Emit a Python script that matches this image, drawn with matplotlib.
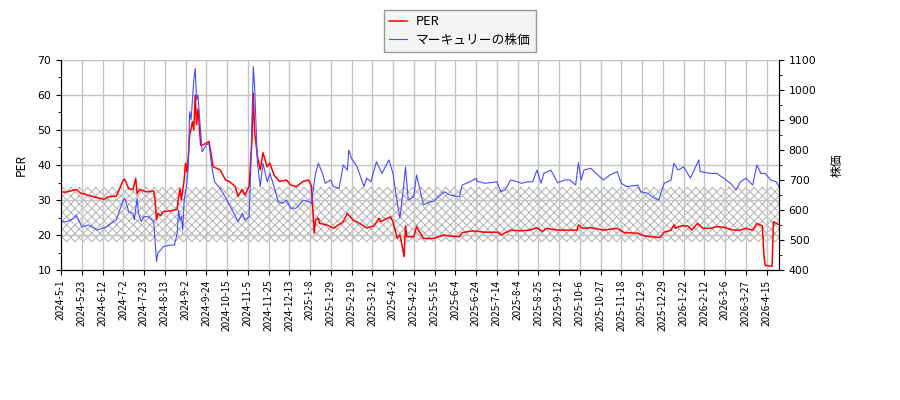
import matplotlib
matplotlib.use("Agg")
import matplotlib.pyplot as plt
from matplotlib.ticker import MultipleLocator

# trading-day index -> value
PER_IDX = [0, 3, 11, 14, 23, 31, 35, 40, 45, 46, 49, 52, 54, 55, 57, 62, 67, 68, 69, 70,
           72, 74, 81, 84, 85, 86, 87, 89, 90, 91, 92, 93, 95, 96, 97, 98, 99, 101, 103, 107,
           109, 110, 115, 119, 122, 126, 128, 131, 133, 136, 137, 138, 139, 140, 142, 144, 146, 149, 151, 154,
           158, 163, 166, 170, 175, 179, 181, 183, 184, 186, 187, 192, 197, 204, 207, 211, 216, 221, 226, 230,
           231, 238, 240, 243, 245, 246, 248, 249, 250, 255, 257, 259, 262, 269, 277, 281, 288, 290, 298, 306,
           316, 318, 325, 332, 339, 344, 348, 351, 359, 368, 373, 374, 377, 383, 392, 402, 407, 417, 421, 426,
           433, 436, 441, 443, 444, 448, 453, 456, 460, 464, 470, 474, 479, 486, 491, 495, 500, 503, 507, 508,
           509, 514, 515, 519]
PER_VALUES = [32.4, 32.2, 33.0, 32.0, 31.0, 30.2, 31.0, 31.1, 35.7, 36.0, 33.2, 33.0, 36.2, 31.8, 33.0, 32.3, 32.6, 30.0, 24.3, 26.2,
              25.5, 26.7, 27.0, 27.4, 31.0, 33.2, 30.0, 35.7, 40.5, 38.0, 42.4, 48.5, 52.4, 50.0, 60.0, 51.5, 56.0, 45.6, 45.8, 46.7,
              41.9, 39.5, 38.6, 35.7, 35.2, 33.8, 31.1, 33.0, 31.4, 34.0, 40.7, 46.3, 60.5, 49.3, 42.4, 38.6, 43.5, 39.5, 40.5, 37.1,
              35.3, 35.7, 34.3, 33.8, 35.3, 35.7, 34.0, 20.5, 24.3, 24.8, 23.3, 22.9, 21.9, 23.8, 26.2, 24.3, 23.3, 22.0, 22.6, 24.8,
              23.8, 25.2, 23.8, 19.1, 20.0, 18.1, 13.8, 22.6, 19.5, 19.5, 22.4, 21.0, 19.0, 19.0, 20.0, 19.7, 19.5, 20.7, 21.2, 20.8,
              20.8, 20.0, 21.4, 21.2, 21.4, 22.1, 21.0, 21.9, 21.4, 21.4, 21.4, 22.9, 21.9, 22.1, 21.4, 21.9, 20.7, 20.5, 19.8, 19.5,
              19.3, 20.8, 21.4, 22.9, 21.9, 22.6, 22.6, 21.4, 23.3, 21.9, 21.9, 22.4, 22.2, 21.4, 21.4, 21.9, 21.4, 23.3, 22.6, 14.6,
              11.3, 11.1, 23.8, 22.9]

PRICE_IDX = [0, 4, 9, 11, 15, 20, 26, 33, 38, 40, 45, 46, 49, 52, 53, 55, 56, 58, 60, 63,
             67, 68, 69, 70, 72, 74, 79, 82, 84, 85, 86, 87, 88, 89, 91, 92, 93, 94, 96, 97,
             98, 99, 101, 102, 105, 107, 109, 111, 115, 120, 125, 128, 131, 133, 136, 137, 138, 139, 140, 142,
             144, 146, 149, 151, 154, 157, 160, 163, 166, 170, 175, 179, 181, 184, 186, 189, 191, 195, 197, 201,
             204, 207, 208, 210, 214, 219, 221, 224, 228, 232, 237, 240, 242, 244, 245, 248, 249, 251, 255, 257,
             259, 262, 267, 269, 277, 281, 288, 290, 294, 298, 300, 301, 303, 306, 310, 315, 318, 321, 325, 330,
             333, 337, 341, 344, 347, 349, 354, 359, 364, 368, 372, 374, 376, 378, 383, 388, 392, 397, 402, 405,
             409, 417, 419, 424, 429, 432, 436, 441, 443, 446, 450, 455, 461, 462, 470, 474, 479, 484, 488, 491,
             495, 500, 503, 506, 509, 513, 517, 519]
PRICE_VALUES = [561, 561, 572, 583, 544, 550, 533, 544, 561, 567, 633, 639, 594, 589, 567, 639, 589, 561, 578, 578,
                561, 500, 428, 456, 467, 478, 483, 483, 522, 600, 567, 578, 533, 633, 689, 744, 928, 900, 1033, 1072,
                967, 983, 856, 794, 817, 822, 744, 694, 672, 633, 589, 561, 589, 567, 578, 711, 889, 1078, 1006, 756,
                678, 756, 694, 722, 678, 628, 622, 633, 606, 606, 633, 628, 622, 722, 756, 722, 689, 700, 678, 672,
                750, 733, 800, 772, 744, 678, 706, 694, 761, 722, 767, 722, 656, 600, 572, 694, 744, 633, 644, 717,
                678, 617, 628, 628, 661, 650, 644, 683, 691, 700, 706, 694, 694, 689, 691, 694, 661, 667, 700, 694,
                689, 694, 694, 733, 689, 722, 733, 691, 700, 700, 683, 758, 700, 733, 739, 717, 700, 717, 728, 689,
                678, 683, 661, 656, 639, 633, 689, 700, 756, 733, 744, 706, 767, 728, 722, 722, 706, 689, 667, 694,
                706, 683, 750, 722, 722, 700, 694, 678]

TICK_LABELS = ["2024-5-1", "2024-5-23", "2024-6-12", "2024-7-2", "2024-7-23", "2024-8-13", "2024-9-2",
               "2024-9-24", "2024-10-15", "2024-11-5", "2024-11-25", "2024-12-13", "2025-1-8", "2025-1-29",
               "2025-2-19", "2025-3-12", "2025-4-2", "2025-4-22", "2025-5-15", "2025-6-4", "2025-6-24",
               "2025-7-14", "2025-8-4", "2025-8-25", "2025-9-12", "2025-10-6", "2025-10-27", "2025-11-18",
               "2025-12-9", "2025-12-29", "2026-1-22", "2026-2-12", "2026-3-6", "2026-3-27", "2026-4-15"]
TICK_STEP = 15
N_DAYS = 520

PER_BAND = (18.1, 33.8)

JP = ["Noto Sans CJK JP", "DejaVu Sans"]


def main():
    plt.rcParams["font.family"] = ["DejaVu Sans", "Noto Sans CJK JP"]
    plt.rcParams["hatch.linewidth"] = 0.7

    fig = plt.figure(figsize=(9, 4), dpi=100)
    ax = fig.add_axes([61 / 900, 1 - 270 / 400, 718 / 900, 210 / 400])
    ax2 = ax.twinx()

    # hatched PER band behind the lines
    ax.axhspan(PER_BAND[0], PER_BAND[1], facecolor="none", edgecolor="#b2b2b2",
               hatch="xxxx", linewidth=0, zorder=0)

    l1, = ax.plot(PER_IDX, PER_VALUES, color="#ff0000", lw=1.1, label="PER")
    l2, = ax2.plot(PRICE_IDX, PRICE_VALUES, color="#4a4aff", lw=0.8, label="マーキュリーの株価")

    ax.set_xlim(0, N_DAYS - 1)
    ax.set_ylim(10, 70)
    ax2.set_ylim(400, 1100)

    ticks = [i * TICK_STEP for i in range(len(TICK_LABELS))]
    ax.set_xticks(ticks)
    ax.set_xticklabels(TICK_LABELS, rotation=90, fontsize=7.2, family=JP)

    ax.yaxis.set_major_locator(MultipleLocator(10))
    ax.yaxis.set_minor_locator(MultipleLocator(5))
    ax2.yaxis.set_major_locator(MultipleLocator(100))
    ax2.yaxis.set_minor_locator(MultipleLocator(50))
    ax.tick_params(axis="y", labelsize=7.8)
    ax2.tick_params(axis="y", labelsize=7.8)

    ax.grid(True, color="#c4c4c4", lw=1.0)
    ax.set_axisbelow(True)
    for a in (ax, ax2):
        a.spines["top"].set_visible(False)

    ax.set_ylabel("PER", fontsize=8.5, family=JP, labelpad=7)
    ax2.set_ylabel("株価", fontsize=8.5, family=JP, labelpad=10)

    leg = fig.legend([l1, l2], ["PER", "マーキュリーの株価"], loc="upper left",
                     bbox_to_anchor=(384 / 900, 1 - 10 / 400), borderaxespad=0,
                     fancybox=False, handlelength=1.4, handletextpad=0.7,
                     labelspacing=0.45, prop={"family": JP, "size": 9.2})
    leg.get_frame().set_facecolor("#f2f2f2")
    leg.get_frame().set_edgecolor("#808080")

    fig.savefig("out.png", dpi=100)


if __name__ == "__main__":
    main()
